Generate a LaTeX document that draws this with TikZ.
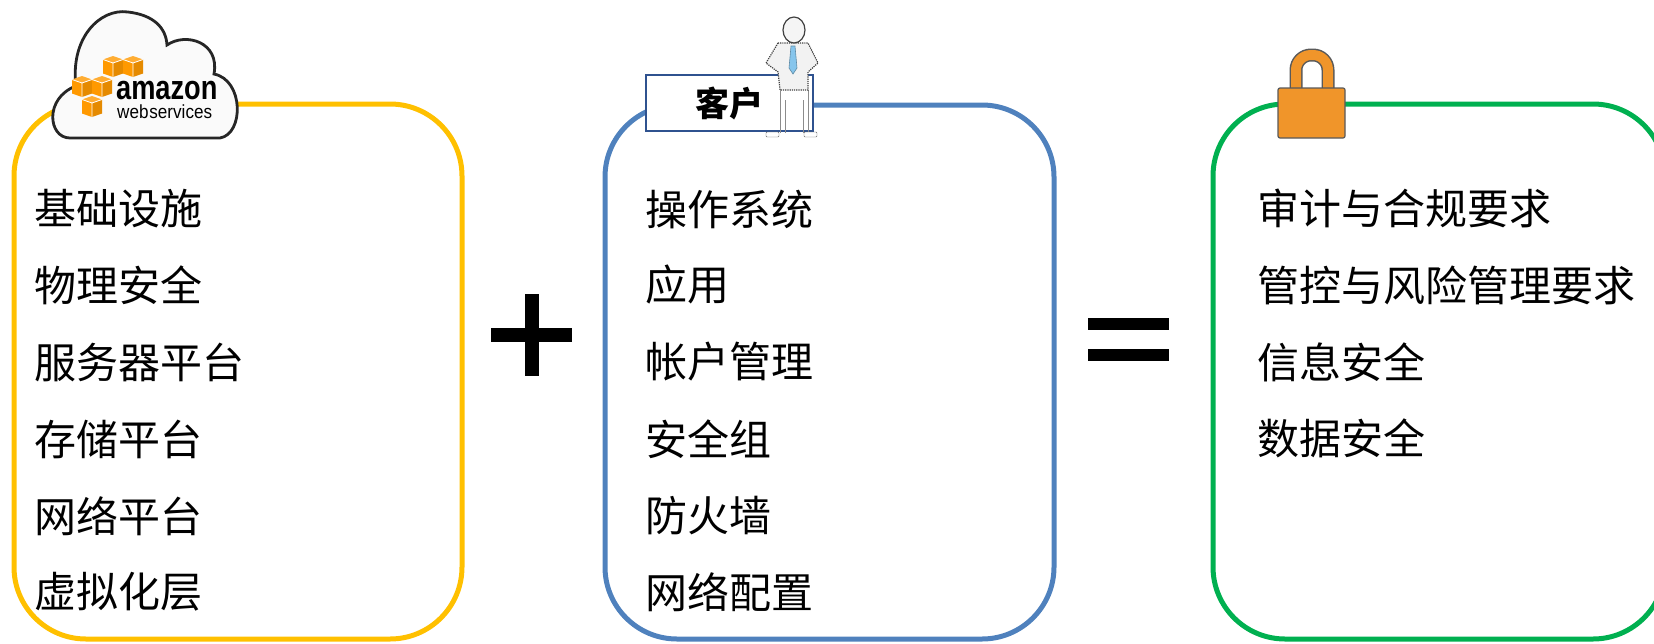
\documentclass[tikz,border=0pt]{standalone}
\usepackage{fontspec}
\usepackage{tikz}

\newfontfamily\cjk{Noto Sans CJK SC}
\newfontfamily\logofont{Liberation Sans}

\definecolor{awsyellow}{HTML}{FFC000}
\definecolor{custblue}{HTML}{4F81BD}
\definecolor{labelblue}{HTML}{2F528F}
\definecolor{secgreen}{HTML}{00B050}
\definecolor{awsorange}{HTML}{FF9900}
\definecolor{lockorange}{HTML}{F0952A}
\definecolor{tieblue}{HTML}{86C5EC}

\tikzset{
  item/.style={anchor=west, inner sep=0pt, font=\cjk\fontsize{42}{50}\selectfont},
  panel/.style={line width=5pt, rounded corners=72pt},
  logotext/.style={anchor=base west, inner sep=0pt, text depth=0pt},
  awsbox/.pic={
    \fill[awsorange] (0,3.5) -- (10,7) -- (10,21) -- (0,17.5) -- cycle;
    \fill[awsorange!90!black] (10,7) -- (20,3.5) -- (20,17.5) -- (10,21) -- cycle;
    \fill[awsorange!80!white] (0,3.5) -- (10,0) -- (20,3.5) -- (10,7) -- cycle;
    \draw[white, line width=0.8pt] (0,3.5) -- (10,7) -- (20,3.5) (10,7) -- (10,21);
  }
}

\begin{document}
\begin{tikzpicture}[x=1pt,y=-1pt]
    \useasboundingbox (0,0) rectangle (1654,643);
    \clip (0,0) rectangle (1654,643);

    % the three panels
    \draw[panel, awsyellow] (14,104) rectangle (462,639);
    \draw[panel, custblue] (605,105) rectangle (1054,639);
    \draw[panel, secgreen] (1213,104) rectangle (1665,639);

    % cloud with the logo
    \draw[line width=2.8pt, draw=black!85, fill=black!2] (70,138)
        .. controls (48,138) and (44,98) .. (76,86)
        .. controls (70,38) and (100,8) .. (128,12)
        .. controls (154,15) and (166,28) .. (167,45)
        .. controls (186,32) and (220,42) .. (214,74)
        .. controls (244,80) and (244,134) .. (220,138)
        -- cycle;
    \pic at (103,56) {awsbox};
    \pic at (123,56) {awsbox};
    \pic at (72,76) {awsbox};
    \pic at (92,76) {awsbox};
    \pic at (82,96) {awsbox};
    \node[logotext, xscale=0.8,
          font=\logofont\bfseries\fontsize{34}{34}\selectfont] (amazon) at (116,99) {amazon};
    \node[logotext, xscale=0.9, text height=13pt,
          font=\logofont\fontsize{19}{19}\selectfont] (webserv) at (117,118) {web\kern1pt services};

    % customer label and figure
    \node[draw=labelblue, line width=2pt, fill=white, inner sep=0pt,
          minimum width=167pt, minimum height=56pt,
          font=\cjk\bfseries\fontsize{34}{40}\selectfont] (cust) at (729.5,103) {客户};
    \draw[black!45, line width=1pt] (780,90) -- (780,133) (808,90) -- (808,133)
        (785,100) -- (785,133) (803,100) -- (803,133);
    \draw[black!60, fill=white, rounded corners=1pt] (766,132) rectangle (779,137);
    \draw[black!60, fill=white, rounded corners=1pt] (804,132) rectangle (817,137);
    \draw[black!75, densely dotted, line width=1.2pt, fill=black!5]
        (778,43) -- (766,63) -- (778,72) -- (780,90) -- (808,90)
        -- (808,72) -- (818,63) -- (808,43) -- cycle;
    \draw[tieblue!70!black, fill=tieblue, line width=0.6pt]
        (791,46) -- (795,46) -- (797,68) -- (793,74) -- (789,68) -- cycle;
    \draw[black!75, line width=1.2pt, fill=black!4] (794,30) ellipse (11 and 13);

    % padlock
    \draw[black!65, line width=13pt, rounded corners=15pt] (1296,98) -- (1296,55) -- (1328,55) -- (1328,98);
    \draw[lockorange, line width=10pt, rounded corners=15pt] (1296,98) -- (1296,55) -- (1328,55) -- (1328,98);
    \draw[black!65, fill=lockorange, line width=1.2pt, rounded corners=2pt] (1278,88) rectangle (1345,138);

    % plus and equals
    \fill (491,328) rectangle (572,342);
    \fill (525,294) rectangle (539,376);
    \fill (1088,318) rectangle (1169,330);
    \fill (1088,349) rectangle (1169,361);

    % provider side
    \node[item] (aws1) at (34,209) {基础设施};
    \node[item] (aws2) at (34,285) {物理安全};
    \node[item] (aws3) at (34,362) {服务器平台};
    \node[item] (aws4) at (34,439) {存储平台};
    \node[item] (aws5) at (34,516) {网络平台};
    \node[item] (aws6) at (34,592) {虚拟化层};

    % customer side
    \node[item] (cust1) at (645,209) {操作系统};
    \node[item] (cust2) at (645,285) {应用};
    \node[item] (cust3) at (645,362) {帐户管理};
    \node[item] (cust4) at (645,439) {安全组};
    \node[item] (cust5) at (645,516) {防火墙};
    \node[item] (cust6) at (645,592) {网络配置};

    % result
    \node[item] (sec1) at (1257,208) {审计与合规要求};
    \node[item] (sec2) at (1257,285) {管控与风险管理要求};
    \node[item] (sec3) at (1257,362) {信息安全};
    \node[item] (sec4) at (1257,438) {数据安全};
\end{tikzpicture}
\end{document}
